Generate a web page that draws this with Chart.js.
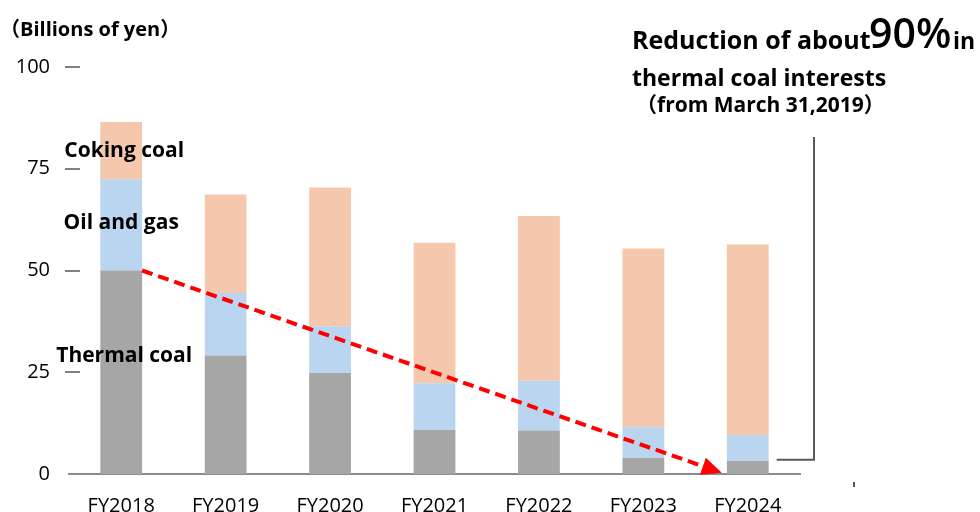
<!DOCTYPE html>
<html>
<head>
<meta charset="utf-8">
<script src="https://cdn.jsdelivr.net/npm/chart.js@4.4.1/dist/chart.umd.min.js"></script>
<style>
  html, body { margin: 0; padding: 0; background: #fff; }
  #wrap { width: 980px; height: 512px; position: relative; }
</style>
</head>
<body>
<div id="wrap"><canvas id="coalChart"></canvas></div>
<script>
// Data (billions of yen)
const years = ['FY2018', 'FY2019', 'FY2020', 'FY2021', 'FY2022', 'FY2023', 'FY2024'];
const thermalCoal = [50.0, 29.1, 24.8, 10.8, 10.7, 4.0, 3.2];
const oilAndGas = [22.4, 15.4, 11.5, 11.5, 12.2, 7.5, 6.4];
const cokingCoal = [14.1, 24.2, 34.1, 34.5, 40.5, 43.9, 46.8];
const seriesNames = ['Thermal coal', 'Oil and gas', 'Coking coal'];
const yTicks = [0, 25, 50, 75, 100];

const FONT = '"Open Sans", "Noto Sans CJK JP", sans-serif';
Chart.defaults.font.family = FONT;
Chart.defaults.color = '#000';

const ctx = document.getElementById('coalChart').getContext('2d');

// Extra drawing: tick dashes, series labels, red arrow, note + bracket
const overlay = {
    id: 'overlay',
    afterDraw(chart) {
        const c = chart.ctx;
        const xs = chart.scales.x;
        const ys = chart.scales.y;
        const halfBar = xs.width / years.length * 0.4 / 2;

        c.save();

        // little dashes beside y labels
        c.strokeStyle = '#808080';
        c.lineWidth = 2;
        yTicks.slice(1).forEach(v => {
            const py = Math.round(ys.getPixelForValue(v));
            c.beginPath();
            c.moveTo(65, py);
            c.lineTo(80, py);
            c.stroke();
        });

        // unit label
        c.fillStyle = '#000';
        c.font = 'bold 20px ' + FONT;
        c.textAlign = 'left';
        c.textBaseline = 'alphabetic';
        c.fillText('（Billions of yen）', 0, 36);

        // series labels next to the first bar
        const cx = xs.getPixelForValue(0) + 3;
        c.textAlign = 'center';
        c.textBaseline = 'middle';
        c.font = 'bold 21px ' + FONT;
        c.fillText(seriesNames[2], cx, ys.getPixelForValue(thermalCoal[0] + oilAndGas[0] + cokingCoal[0] / 2));
        c.fillText(seriesNames[1], cx - 3, ys.getPixelForValue(thermalCoal[0] + oilAndGas[0] / 2) - 2);
        c.fillText(seriesNames[0], cx, ys.getPixelForValue(thermalCoal[0] * 0.58));

        // red dashed arrow
        const x0 = xs.getPixelForValue(0) + halfBar;
        const y0 = ys.getPixelForValue(thermalCoal[0]);
        const x1 = xs.getPixelForValue(years.length - 1) - 26;
        const y1 = ys.getPixelForValue(0.3);
        const ang = Math.atan2(y1 - y0, x1 - x0);
        const head = 20;
        c.strokeStyle = '#ff0000';
        c.fillStyle = '#ff0000';
        c.lineWidth = 4;
        c.setLineDash([11, 6]);
        c.beginPath();
        c.moveTo(x0, y0);
        c.lineTo(x1 - Math.cos(ang) * head, y1 - Math.sin(ang) * head);
        c.stroke();
        c.setLineDash([]);
        c.beginPath();
        c.moveTo(x1, y1);
        c.lineTo(x1 - Math.cos(ang) * head - Math.sin(ang) * 9, y1 - Math.sin(ang) * head + Math.cos(ang) * 9);
        c.lineTo(x1 - Math.cos(ang) * head + Math.sin(ang) * 9, y1 - Math.sin(ang) * head - Math.cos(ang) * 9);
        c.closePath();
        c.fill();

        // bracket from note to last bar
        const bx = xs.right + 14;
        const by = ys.getPixelForValue(thermalCoal[6] + 0.3);
        c.strokeStyle = '#595959';
        c.lineWidth = 2;
        c.beginPath();
        c.moveTo(bx, 137);
        c.lineTo(bx, by);
        c.lineTo(xs.getPixelForValue(years.length - 1) + halfBar + 8, by);
        c.stroke();
        c.beginPath();
        c.moveTo(854, 482);
        c.lineTo(854, 487);
        c.stroke();

        // note text
        c.fillStyle = '#000';
        c.textAlign = 'left';
        c.textBaseline = 'alphabetic';
        c.font = 'bold 25px ' + FONT;
        c.fillText('Reduction of about', 632, 49);
        c.font = '600 41px ' + FONT;
        c.fillText('90%', 869, 48);
        c.font = 'bold 23px ' + FONT;
        c.fillText('in', 953, 49);
        c.fillText('thermal coal interests', 632, 86);
        c.font = 'bold 21px ' + FONT;
        c.fillText('（from March 31,2019）', 636, 112);

        c.restore();
    }
};

new Chart(ctx, {
    type: 'bar',
    data: {
        labels: years,
        datasets: [
            { label: seriesNames[0], data: thermalCoal, backgroundColor: '#a6a6a6' },
            { label: seriesNames[1], data: oilAndGas, backgroundColor: '#bad5f0' },
            { label: seriesNames[2], data: cokingCoal, backgroundColor: '#f5c7ad' }
        ]
    },
    options: {
        responsive: true,
        maintainAspectRatio: false,
        animation: false,
        devicePixelRatio: 1,
        layout: { padding: { top: 67, right: 180, left: 0, bottom: 0 } },
        datasets: {
            bar: { barPercentage: 0.4, categoryPercentage: 1.0, borderWidth: 0 }
        },
        plugins: {
            legend: { display: false },
            tooltip: { enabled: false }
        },
        scales: {
            x: {
                stacked: true,
                grid: { display: false, drawTicks: false },
                border: { display: true, color: '#8c8c8c', width: 2 },
                ticks: { font: { size: 20 }, padding: 20, color: '#000', maxRotation: 0 },
                afterFit: scale => { scale.height = 38; }
            },
            y: {
                stacked: true,
                min: 0,
                max: 100,
                grid: { display: false, drawTicks: false },
                border: { display: false },
                ticks: { stepSize: 25, font: { size: 20 }, padding: 19, color: '#000' },
                afterFit: scale => { scale.width = 69; }
            }
        }
    },
    plugins: [overlay]
});
</script>
</body>
</html>
